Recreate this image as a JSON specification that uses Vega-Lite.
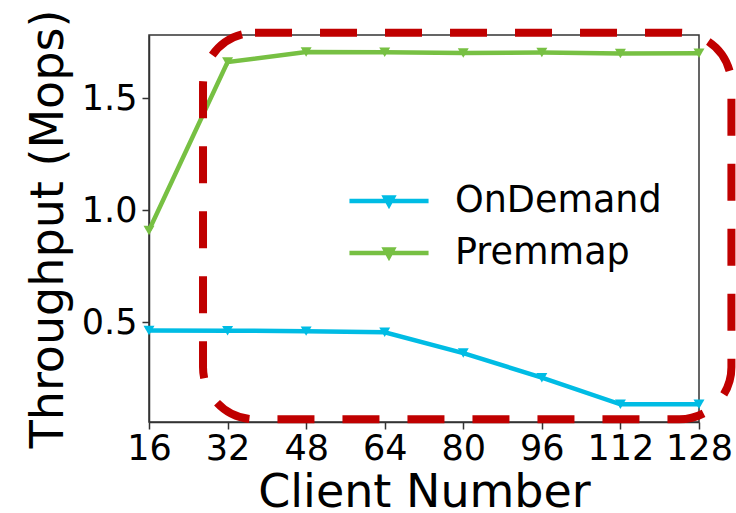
{
  "$schema": "https://vega.github.io/schema/vega-lite/v6.json",
  "autosize": {"type": "none"},
  "padding": {"left": 149, "top": 35, "right": 37, "bottom": 91},
  "width": 550,
  "height": 387,
  "background": "white",
  "config": {
    "font": "DejaVu Sans",
    "view": {"stroke": "#333333", "strokeWidth": 1.5},
    "axis": {
      "grid": false,
      "domainColor": "#333333",
      "domainWidth": 1.5,
      "tickColor": "#333333",
      "tickWidth": 1.5,
      "tickSize": 7,
      "labelColor": "black",
      "titleColor": "black",
      "labelFont": "DejaVu Sans",
      "titleFont": "DejaVu Sans",
      "labelFontSize": 35,
      "titleFontSize": 46,
      "titleFontWeight": "normal",
      "labelFlush": false
    }
  },
  "layer": [
    {
      "data": {"name": "tp", "values": [
        {"series": "OnDemand", "clients": 16, "mops": 0.463},
        {"series": "OnDemand", "clients": 32, "mops": 0.462},
        {"series": "OnDemand", "clients": 48, "mops": 0.46},
        {"series": "OnDemand", "clients": 64, "mops": 0.455},
        {"series": "OnDemand", "clients": 80, "mops": 0.362},
        {"series": "OnDemand", "clients": 96, "mops": 0.252},
        {"series": "OnDemand", "clients": 112, "mops": 0.133},
        {"series": "OnDemand", "clients": 128, "mops": 0.133},
        {"series": "Premmap", "clients": 16, "mops": 0.91},
        {"series": "Premmap", "clients": 32, "mops": 1.662},
        {"series": "Premmap", "clients": 48, "mops": 1.707},
        {"series": "Premmap", "clients": 64, "mops": 1.706},
        {"series": "Premmap", "clients": 80, "mops": 1.703},
        {"series": "Premmap", "clients": 96, "mops": 1.705},
        {"series": "Premmap", "clients": 112, "mops": 1.700},
        {"series": "Premmap", "clients": 128, "mops": 1.701}
      ]},
      "layer": [
        {
          "mark": {"type": "line", "strokeWidth": 4.5, "clip": true},
          "encoding": {
            "x": {"field": "clients", "type": "quantitative"},
            "y": {"field": "mops", "type": "quantitative"},
            "color": {"field": "series", "type": "nominal"}
          }
        },
        {
          "mark": {"type": "point", "shape": "triangle-down", "filled": true, "size": 120, "opacity": 1},
          "encoding": {
            "x": {"field": "clients", "type": "quantitative"},
            "y": {"field": "mops", "type": "quantitative"},
            "color": {"field": "series", "type": "nominal"}
          }
        }
      ],
      "encoding": {
        "x": {
          "field": "clients", "type": "quantitative",
          "scale": {"domain": [16, 128], "nice": false, "zero": false},
          "axis": {"values": [16, 32, 48, 64, 80, 96, 112, 128], "title": "Client Number", "labelPadding": 2, "titlePadding": 4}
        },
        "y": {
          "field": "mops", "type": "quantitative",
          "scale": {"domain": [0.054, 1.783], "nice": false, "zero": false},
          "axis": {"values": [0.5, 1.0, 1.5], "format": ".1f", "title": "Throughput (Mops)", "labelPadding": 5, "titlePadding": 9}
        },
        "color": {
          "field": "series", "type": "nominal",
          "scale": {"domain": ["OnDemand", "Premmap"], "range": ["#00bce4", "#77c043"]},
          "legend": {
            "title": null,
            "orient": "none",
            "legendX": 220,
            "legendY": 146,
            "padding": 0,
            "symbolType": "M-2.26,0H2.26M-0.22,-0.2H0.22L0,0.2Z",
            "symbolSize": 1225,
            "symbolStrokeWidth": 4.5,
            "labelFontSize": 36.5,
            "labelFont": "DejaVu Sans",
            "labelColor": "black",
            "labelLimit": 0,
            "labelOffset": 46,
            "rowPadding": 13,
            "encode": {
              "symbols": {"update": {
                "fill": {"scale": "color", "field": "value"},
                "stroke": {"scale": "color", "field": "value"},
                "opacity": {"value": 1}
              }}
            }
          }
        }
      }
    },
    {
      "data": {"values": [{"x1": 27.0, "x2": 134.6, "y1": 0.066, "y2": 1.793}]},
      "mark": {"type": "rect", "clip": false, "fill": null, "fillOpacity": 0, "stroke": "#c00000", "strokeWidth": 8, "strokeDash": [37, 28], "cornerRadius": 52},
      "encoding": {
        "x": {"field": "x1", "type": "quantitative"},
        "x2": {"field": "x2"},
        "y": {"field": "y1", "type": "quantitative"},
        "y2": {"field": "y2"}
      }
    }
  ]
}
